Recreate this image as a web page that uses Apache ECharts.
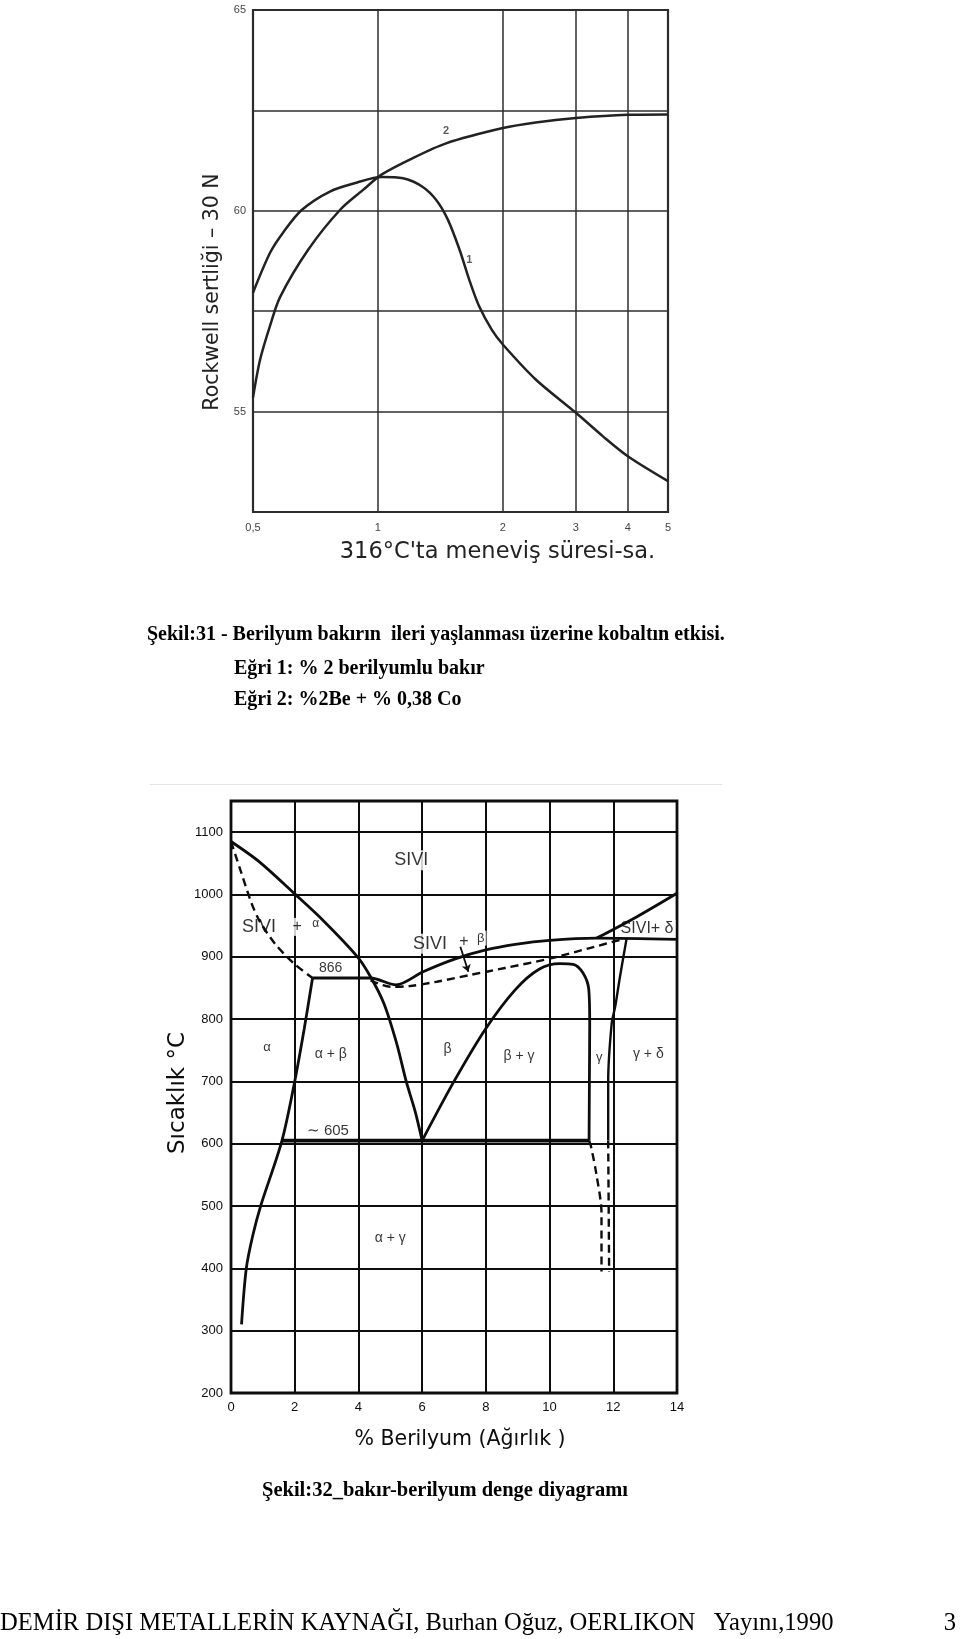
<!DOCTYPE html>
<html><head><meta charset="utf-8">
<script src="https://cdn.jsdelivr.net/npm/echarts@6/dist/echarts.min.js"></script>
<style>html,body{margin:0;padding:0;background:#fff}#main{width:960px;height:1639px}</style>
</head><body><div id="main"></div>
<script>
// ---------- Figure 31: hardness vs tempering time (log time axis) ----------
const timeTicks = [0.5, 1, 2, 3, 4, 5];
const hoursCurve1 = [0.5, 0.55, 0.59, 0.655, 0.766, 0.888, 1.02, 1.15, 1.28, 1.382, 1.474, 1.573, 1.66, 1.75, 1.88, 2.0, 2.4, 3.0, 3.48, 4.0, 5.0];
const hardnessCurve1 = [57.96, 58.96, 59.45, 60.02, 60.48, 60.70, 60.84, 60.81, 60.60, 60.27, 59.78, 59.03, 58.28, 57.64, 57.04, 56.67, 55.80, 54.97, 54.39, 53.89, 53.27];
const hoursCurve2 = [0.5, 0.52, 0.549, 0.581, 0.679, 0.81, 0.921, 1.02, 1.19, 1.46, 2.0, 2.4, 3.0, 4.0, 5.0];
const hardnessCurve2 = [55.35, 56.29, 57.12, 57.85, 59.03, 60.02, 60.52, 60.90, 61.27, 61.68, 62.06, 62.20, 62.31, 62.39, 62.40];
const curveNames = ['1', '2'];
const curveNameHours = [1.66, 1.46];
const curveNameHardness = [58.78, 62.0];

// ---------- Figure 32: Cu-Be phase diagram ----------
const liquidusAlpha = [[0,1085],[0.9,1052],[2,1001],[2.9,958],[3.97,900],[4.38,868],[4.8,825],[5.2,761],[5.5,700],[5.78,652],[6,605]];
const peritecticAndLiquidusBeta = [[2.56,866],[4.38,866],[5.18,855],[6.03,876],[7.06,897],[8.0,911],[8.92,920],[10,926.5],[11.48,930],[14,928]];
const liquidusDelta = [[11.48,930],[12.73,964],[14,1002]];
const solvusAlpha = [[2.56,866],[2.3,785],[2.0,700],[1.6,605],[0.93,500],[0.68,452],[0.48,400],[0.33,310]];
const solidusAlpha = [[0,1085],[0.33,1034],[0.63,988],[0.88,959],[1.38,921],[1.98,889],[2.56,866]];
const solidusBeta = [[4.38,862],[5.0,852],[5.6,853],[6.46,860],[7.52,871],[8.6,882],[10,897],[11.26,914],[12.35,929]];
const gammaDome = [[6,605],[7.0,700],[8.0,785],[8.92,847],[9.67,880],[10.32,889],[10.74,888],[11.05,874],[11.23,848],[11.26,793],[11.25,700],[11.24,605]];
const eutectoidLine = [[1.58,605],[11.24,605]];
const gammaLeftDashed = [[11.24,605],[11.29,598],[11.47,551],[11.63,488],[11.63,395]];
const gammaRight = [[12.42,930],[12.21,868],[12.06,820],[11.95,793],[11.84,700],[11.84,605]];
const gammaRightDashed = [[11.84,605],[11.87,395]];
const arrowLine = [[7.2,916],[7.45,876]];
const regionText = ['SIVI','SIVI','+','α','SIVI','+','β','SIVI+ δ','866','α','α + β','β','β + γ','γ','γ + δ','∼ 605','α + γ'];
const regionX = [5.66, 0.88, 2.08, 2.66, 6.25, 7.31, 7.84, 13.06, 3.13, 1.13, 3.13, 6.8, 9.04, 11.56, 13.1, 3.04, 5.0];
const regionT = [1055, 948, 948, 953, 921, 924, 930, 945, 882, 755, 744, 752, 741, 738, 743, 620, 449];
const regionSize = [18, 18, 16, 12, 18, 16, 13, 16, 14, 13, 14, 14, 14, 13, 14, 15, 14];

const sans = '"Liberation Sans",Arial,sans-serif';
const ink = '#0d0d0d';
const serif = '"Liberation Serif","Times New Roman",serif';

const chart = echarts.init(document.getElementById('main'), null, {renderer: 'canvas', width: 960, height: 1639});

function curveSeries(xs, ys) { return xs.map((x, i) => [x, ys[i]]); }
function boundary(name, data, dashed, width) {
  return {
    name, type: 'line', xAxisIndex: 1, yAxisIndex: 1, data, showSymbol: false, smooth: 0.3,
    lineStyle: {color: ink, width: width || 2.8, type: dashed ? [8, 5] : 'solid'}, z: 5
  };
}

chart.setOption({
  animation: false,
  backgroundColor: '#fff',
  grid: [
    {left: 253, top: 10, width: 415, height: 502, show: true, borderColor: '#2a2a2a', borderWidth: 2.2, backgroundColor: 'transparent'},
    {left: 231, top: 801, width: 446, height: 592, show: true, borderColor: ink, borderWidth: 2.8, backgroundColor: 'transparent'}
  ],
  xAxis: [
    {
      gridIndex: 0, type: 'log', logBase: 10, min: 0.5, max: 5,
      name: "316°C'ta meneviş süresi-sa.", nameLocation: 'middle', nameGap: 29,
      nameTextStyle: {fontFamily: '"DejaVu Sans",sans-serif', fontSize: 22.5, color: '#222', padding: [0, 0, 0, 74]},
      axisLine: {show: false}, axisTick: {show: false, customValues: timeTicks},
      axisLabel: {customValues: timeTicks, color: '#444', fontSize: 11, margin: 10, fontFamily: sans,
        formatter: v => String(Math.round(v * 10) / 10).replace('.', ',')},
      splitLine: {show: true, lineStyle: {color: '#2e2e2e', width: 1.5}}
    },
    {
      gridIndex: 1, type: 'value', min: 0, max: 14, interval: 2,
      name: '% Berilyum (Ağırlık )', nameLocation: 'middle', nameGap: 36,
      nameTextStyle: {fontFamily: '"DejaVu Sans",sans-serif', fontSize: 20.5, color: ink, padding: [0, 0, 0, 12]},
      axisLine: {show: false}, axisTick: {show: false},
      axisLabel: {color: ink, fontSize: 13, margin: 8, fontFamily: sans},
      splitLine: {show: true, lineStyle: {color: ink, width: 2}}
    }
  ],
  yAxis: [
    {
      gridIndex: 0, type: 'value', min: 52.5, max: 65, interval: 2.5,
      name: 'Rockwell sertliği – 30 N', nameLocation: 'middle', nameGap: 30, nameRotate: 90,
      nameTextStyle: {fontFamily: '"DejaVu Sans",sans-serif', fontSize: 20.5, color: '#222', padding: [0, 62, 0, 0]},
      axisLine: {show: false}, axisTick: {show: false},
      axisLabel: {color: '#444', fontSize: 11, margin: 7, fontFamily: sans,
        formatter: v => (v === 55 || v === 60 || v === 65) ? String(v) : ''},
      splitLine: {show: true, lineStyle: {color: '#2e2e2e', width: 1.5}}
    },
    {
      gridIndex: 1, type: 'value', min: 200, max: 1150, interval: 100,
      name: 'Sıcaklık °C', nameLocation: 'middle', nameGap: 41, nameRotate: 90,
      nameTextStyle: {fontFamily: '"DejaVu Sans",sans-serif', fontSize: 23, color: ink, padding: [0, 0, 0, 8]},
      axisLine: {show: false}, axisTick: {show: false},
      axisLabel: {color: ink, fontSize: 13, margin: 8, fontFamily: sans,
        formatter: v => v > 1100 ? '' : String(v)},
      splitLine: {show: true, lineStyle: {color: ink, width: 2}}
    }
  ],
  series: [
    {type: 'line', xAxisIndex: 0, yAxisIndex: 0, data: curveSeries(hoursCurve1, hardnessCurve1), showSymbol: false, smooth: 0.3,
      lineStyle: {color: '#222', width: 2.5}, z: 5},
    {type: 'line', xAxisIndex: 0, yAxisIndex: 0, data: curveSeries(hoursCurve2, hardnessCurve2), showSymbol: false, smooth: 0.3,
      lineStyle: {color: '#222', width: 2.5}, z: 5},
    {type: 'scatter', xAxisIndex: 0, yAxisIndex: 0, symbolSize: 0, z: 6,
      data: curveNames.map((n, i) => ({value: [curveNameHours[i], curveNameHardness[i]], name: n})),
      label: {show: true, position: 'inside', formatter: p => p.name, fontSize: 11, fontWeight: 'bold', color: '#333', fontFamily: sans}},

    boundary('liquidusAlpha', liquidusAlpha, false),
    boundary('peritectic', peritecticAndLiquidusBeta, false),
    boundary('liquidusDelta', liquidusDelta, false),
    boundary('solvusAlpha', solvusAlpha, false),
    boundary('solidusAlpha', solidusAlpha, true, 2.4),
    boundary('solidusBeta', solidusBeta, true, 2.4),
    boundary('gammaDome', gammaDome, false),
    boundary('eutectoid', eutectoidLine, false, 3.6),
    boundary('gammaLeftDashed', gammaLeftDashed, true, 2.4),
    boundary('gammaRight', gammaRight, false, 2.4),
    boundary('gammaRightDashed', gammaRightDashed, true, 2.4),
    {type: 'lines', coordinateSystem: 'cartesian2d', xAxisIndex: 1, yAxisIndex: 1, z: 6,
      symbol: ['none', 'arrow'], symbolSize: 7,
      lineStyle: {color: ink, width: 1.8, opacity: 1},
      data: [{coords: arrowLine}]},
    {type: 'scatter', xAxisIndex: 1, yAxisIndex: 1, symbolSize: 0, z: 4,
      data: regionText.map((t, i) => ({value: [regionX[i], regionT[i]], name: t, label: {fontSize: regionSize[i]}})),
      label: {show: true, position: 'inside', formatter: p => p.name, color: '#000', fontFamily: sans,
        backgroundColor: '#fff', padding: [1, 2]}}
  ],
  graphic: [
    {type: 'text', x: 147, y: 635, style: {text: 'Şekil:31 - Berilyum bakırın  ileri yaşlanması üzerine kobaltın etkisi.', font: 'bold 20px ' + serif, fill: '#000', verticalAlign: 'middle'}},
    {type: 'text', x: 234, y: 669, style: {text: 'Eğri 1: % 2 berilyumlu bakır', font: 'bold 20px ' + serif, fill: '#000', verticalAlign: 'middle'}},
    {type: 'text', x: 234, y: 700, style: {text: 'Eğri 2: %2Be + % 0,38 Co', font: 'bold 20px ' + serif, fill: '#000', verticalAlign: 'middle'}},
    {type: 'line', shape: {x1: 150, y1: 784.5, x2: 722, y2: 784.5}, style: {stroke: '#e4e4e4', lineWidth: 1}},
    {type: 'text', x: 445, y: 1491, style: {text: 'Şekil:32_bakır-berilyum denge diyagramı', font: 'bold 20.5px ' + serif, fill: '#000', align: 'center', verticalAlign: 'middle'}},
    {type: 'text', x: 0, y: 1624, style: {text: 'DEMİR DIŞI METALLERİN KAYNAĞI, Burhan Oğuz, OERLIKON   Yayını,1990', font: '24.6px ' + serif, fill: '#000', verticalAlign: 'middle'}},
    {type: 'text', x: 950, y: 1624, style: {text: '3', font: '24.6px ' + serif, fill: '#000', align: 'center', verticalAlign: 'middle'}}
  ]
});
</script>
</body></html>
